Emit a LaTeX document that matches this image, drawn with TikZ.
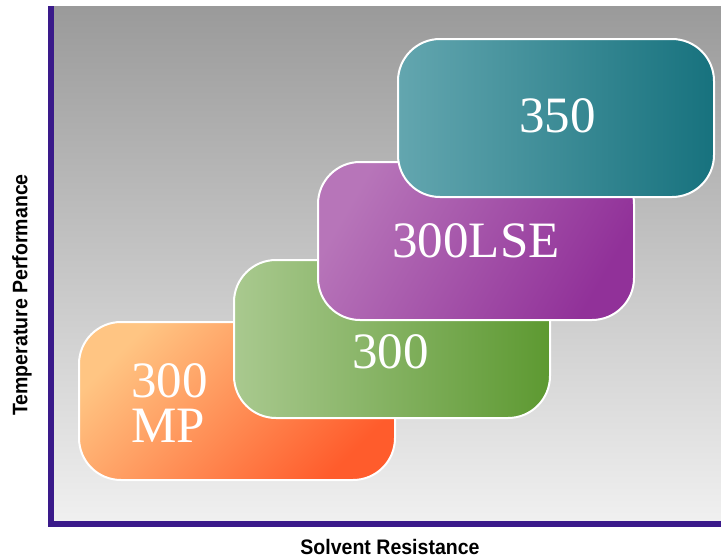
\documentclass[tikz,border=0pt]{standalone}
\usepackage{fontspec}
\setmainfont{Liberation Serif}
\newfontfamily\labelfont{Liberation Sans}
\definecolor{axiscol}{HTML}{3A1A8A}
\definecolor{bgtop}{HTML}{9A9A9A}
\definecolor{bgbot}{HTML}{F0F0F0}
\definecolor{orlight}{HTML}{FFC583}
\definecolor{ordark}{HTML}{FF5C2C}
\definecolor{grlight}{HTML}{A9C98F}
\definecolor{grdark}{HTML}{5D9931}
\definecolor{pulight}{HTML}{B775B9}
\definecolor{pudark}{HTML}{913199}
\definecolor{telight}{HTML}{63A6AF}
\definecolor{tedark}{HTML}{17727E}
\begin{document}
\begin{tikzpicture}[x=1pt,y=-1pt,
  box/.style={draw=white, line width=2pt, rounded corners=42pt,
    minimum width=316pt, minimum height=158pt, inner sep=0pt, anchor=north west},
  boxtext/.style={text=white, font=\fontsize{51}{46}\selectfont, inner sep=0pt},
  axislabel/.style={font=\labelfont\bfseries\fontsize{21}{25}\selectfont, inner sep=0pt, text=black}]
\useasboundingbox (0,0) rectangle (721,560);
\fill[white] (0,0) rectangle (721,560);
% background
\fill[top color=bgtop, bottom color=bgbot] (54,6) rectangle (721,521);
% axes
\coordinate (axtop) at (51,6);
\coordinate (axcorner) at (51,524);
\coordinate (axright) at (721,524);
\draw[axiscol, line width=6pt, line join=miter] (axtop) -- (axcorner) -- (axright);
% axis labels
\node[axislabel, rotate=90] (ylab) at (22,295) {\scalebox{0.93}[1]{Temperature Performance}};
\node[axislabel] (xlab) at (390,547) {\scalebox{0.93}[1]{Solvent Resistance}};
% boxes
\node[box, top color=orlight, bottom color=ordark, shading angle=45] (mp) at (78,321) {};
\node[box, left color=grlight, right color=grdark] (g300) at (233,259) {};
\node[box, top color=pulight, bottom color=pudark, shading angle=60] (lse) at (317,161) {};
\node[box, left color=telight, right color=tedark] (t350) at (397,38) {};
% box texts
\node[boxtext, anchor=base west] (mpt) at (131,397) {\vtop{\baselineskip=45pt\hbox{300}\hbox{MP}}};
\node[boxtext, anchor=base] (g300t) at (390.5,368) {300};
\node[boxtext, anchor=base] (lset) at (476,257) {300LSE};
\node[boxtext, anchor=base] (t350t) at (557.5,132) {350};
\end{tikzpicture}
\end{document}
